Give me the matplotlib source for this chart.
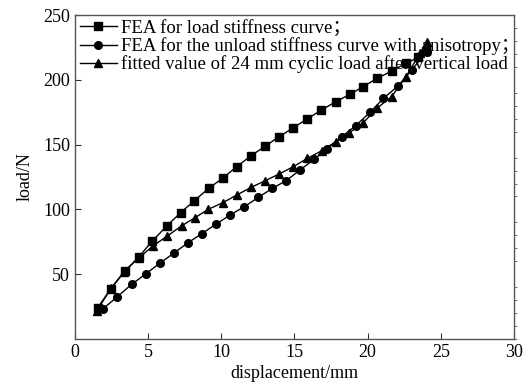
import numpy as np
import matplotlib
matplotlib.use("Agg")
import matplotlib.pyplot as plt
from matplotlib.ticker import MultipleLocator

#--------------------- Data ---------------------
load_x = [1.55, 2.44, 3.42, 4.37, 5.28, 6.27, 7.22, 8.15, 9.14, 10.14, 11.05, 12.03,
          13.01, 13.94, 14.92, 15.86, 16.84, 17.82, 18.78, 19.69, 20.64, 21.64, 22.62, 23.47, 24.0]
load_y = [24.2, 38.6, 52.5, 63.5, 75.6, 87.2, 97.5, 106.7, 116.3, 124.5, 133.0, 141.4,
          148.9, 156.1, 163.0, 169.8, 176.7, 183.1, 188.8, 194.7, 201.1, 206.8, 212.7, 217.4, 222.0]

unload_x = [1.89, 2.89, 3.87, 4.83, 5.81, 6.77, 7.70, 8.66, 9.62, 10.60, 11.57, 12.53,
            13.49, 14.42, 15.38, 16.34, 17.20, 18.23, 19.18, 20.16, 21.08, 22.10, 23.01, 24.04]
unload_y = [23.1, 32.6, 42.2, 50.2, 58.6, 66.4, 74.1, 81.3, 88.5, 95.7, 102.1, 109.3,
            116.3, 122.1, 130.4, 138.7, 146.6, 156.1, 164.6, 174.9, 185.7, 195.5, 207.6, 221.7]

fit_x = [1.48, 2.46, 3.35, 4.37, 5.35, 6.31, 7.29, 8.20, 9.11, 10.10, 11.05, 12.03,
         12.99, 13.94, 14.92, 15.88, 16.86, 17.82, 18.75, 19.71, 20.62, 21.64, 22.62, 23.58, 24.05]
fit_y = [21.6, 39.1, 51.9, 62.7, 72.0, 79.5, 87.4, 93.6, 100.1, 105.2, 111.1, 117.0,
         122.1, 127.3, 133.0, 139.4, 145.3, 152.2, 159.2, 166.9, 178.0, 187.0, 202.4, 220.4, 229.0]

labels = ["FEA for load stiffness curve；",
          "FEA for the unload stiffness curve with anisotropy；",
          "fitted value of 24 mm cyclic load after vertical load"]

#--------------------- Plot ---------------------
plt.rcParams['font.family'] = ['Liberation Serif', 'Noto Sans CJK SC']
plt.rcParams['font.size'] = 13

fig = plt.figure(figsize=(5.26, 3.87), dpi=100)
ax = fig.add_axes([0.1426, 0.124, 0.977 - 0.1426, 0.961 - 0.124])

ax.plot(load_x, load_y, '-s', color='black', lw=1, ms=5.5, label=labels[0])
ax.plot(unload_x, unload_y, '-o', color='black', lw=1, ms=5.5, label=labels[1])
ax.plot(fit_x, fit_y, '-^', color='black', lw=1, ms=6, label=labels[2])

ax.set_xlim(0, 30)
ax.set_ylim(0, 250)
ax.set_xticks([0, 5, 10, 15, 20, 25, 30])
ax.set_yticks([50, 100, 150, 200, 250])
ax.tick_params(direction='in', length=4, width=0.8, colors='#333333', labelcolor='black')
ax.yaxis.set_minor_locator(MultipleLocator(10))
ax.tick_params(axis='y', which='minor', left=False, right=True, direction='out', length=2, colors='#555555')
for s in ax.spines.values():
    s.set_color('#555555')
    s.set_linewidth(1)

ax.set_xlabel('displacement/mm', labelpad=3)
ax.set_ylabel('load/N', labelpad=7)

ax.legend(loc='upper left', frameon=False, handlelength=2.0, handletextpad=0.2,
          labelspacing=0.02, borderaxespad=0.2, borderpad=0.05, fontsize=13.5)

fig.savefig('out.png', dpi=100)
